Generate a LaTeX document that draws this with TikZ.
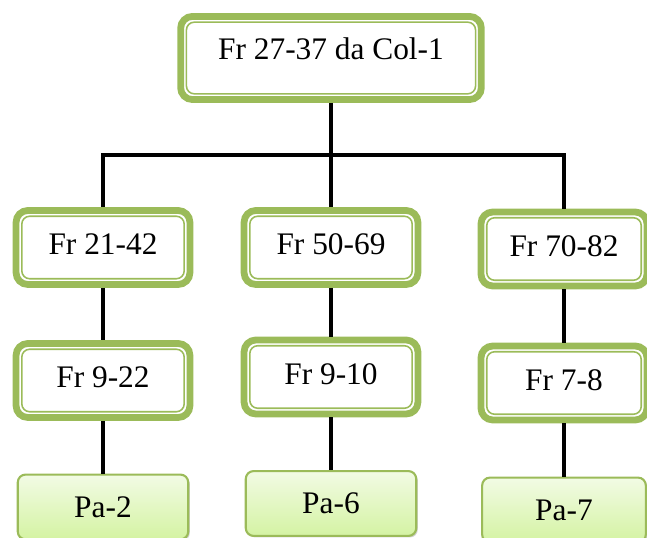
\documentclass[tikz,border=0pt]{standalone}
\usepackage{fontspec}
\setmainfont{Liberation Serif}
\usetikzlibrary{positioning}
\usetikzlibrary{shadows}
\definecolor{frameGreen}{HTML}{9BBB59}
\definecolor{leafTop}{HTML}{F2FBE4}
\definecolor{leafBottom}{HTML}{D4F3A3}
\tikzset{
  myline/.style={
    draw=black,
    line width=1.2pt,
  },
  myframe/.style={
    draw=frameGreen,
    shape=rectangle,
    line width=2.6pt,
    rounded corners=4.5pt,
    align=center,
    minimum width=66.5pt,
    minimum height=28.3pt,
    text depth=2.5pt,
    font=\fontsize{12}{14}\selectfont
  },
  myinset/.style={
    draw=frameGreen,
    line width=0.6pt,
    rounded corners=3pt,
  },
  myleaf/.style={
    draw=frameGreen,
    shape=rectangle,
    line width=0.8pt,
    rounded corners=3pt,
    top color=leafTop,
    bottom color=leafBottom,
    drop shadow={shadow xshift=0.6pt, shadow yshift=-0.6pt, opacity=0.35},
    align=center,
    minimum width=65.2pt,
    minimum height=24.8pt,
    font=\fontsize{12}{14}\selectfont
  }
}
\begin{document}
\begin{tikzpicture}[x=0.01344cm, y=-0.01344cm]
    \useasboundingbox (0,0) rectangle (647,538);

    \node [myframe, minimum width=115pt, minimum height=31.8pt, text depth=7pt] (root) at (331, 58) {Fr 27-37 da Col-1};

    \node [myframe] (fA) at (103, 247.5) {Fr 21-42};
    \node [myframe] (fB) at (331, 247.5) {Fr 50-69};
    \node [myframe, minimum width=63.5pt] (fC) at (564, 249.0) {Fr 70-82};

    \node [myframe] (gA) at (103, 380.5) {Fr 9-22};
    \node [myframe] (gB) at (331, 377.0) {Fr 9-10};
    \node [myframe, minimum width=63.5pt] (gC) at (564, 383.0) {Fr 7-8};

    \node [myleaf] (pA) at (103, 507.0) {Pa-2};
    \node [myleaf] (pB) at (331, 503.5) {Pa-6};
    \node [myleaf, minimum width=62.6pt] (pC) at (564, 510.0) {Pa-7};

    % Thin inner line of the double frames
    \foreach \n in {root,fA,fB,fC,gA,gB,gC}
      \draw [myinset] ([xshift=3.5pt,yshift=3.5pt]\n.south west) rectangle ([xshift=-3.5pt,yshift=-3.5pt]\n.north east);

    \coordinate (bar) at (331, 155);

    \draw [myline] (root.south) -- (bar);
    \draw [myline] (fA.north) |- (bar) -| (fC.north);
    \draw [myline] (bar) -- (fB.north);

    \draw [myline] (fA.south) -- (gA.north);
    \draw [myline] (fB.south) -- (gB.north);
    \draw [myline] (fC.south) -- (gC.north);

    \draw [myline] (gA.south) -- (pA.north);
    \draw [myline] (gB.south) -- (pB.north);
    \draw [myline] (gC.south) -- (pC.north);
\end{tikzpicture}
\end{document}
